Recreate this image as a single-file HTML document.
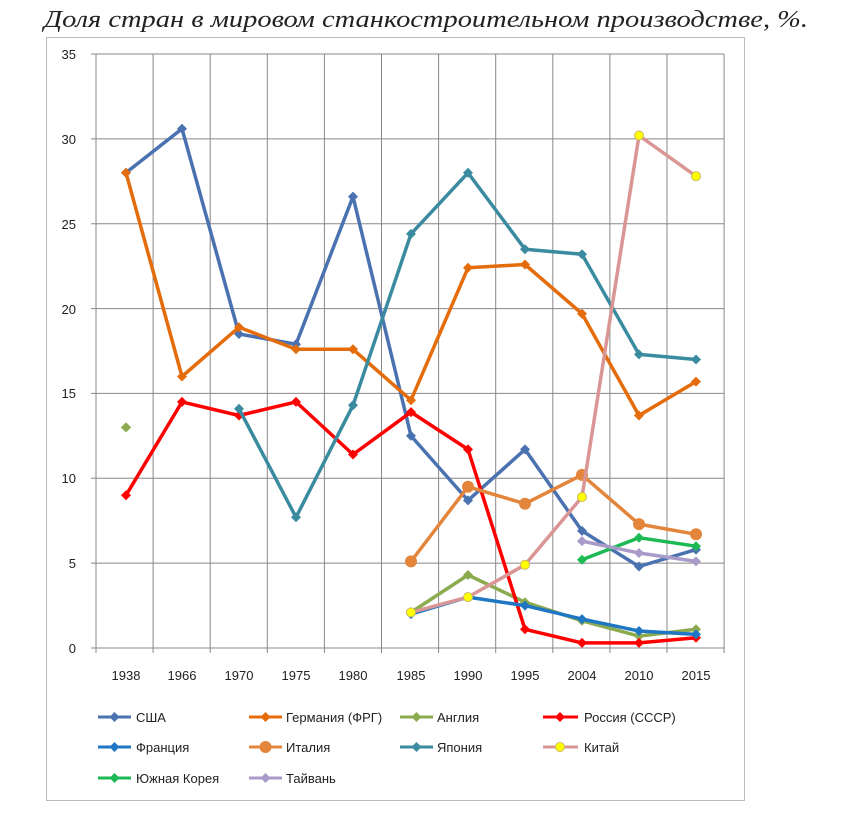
<!DOCTYPE html>
<html><head><meta charset="utf-8"><style>
body{margin:0;background:#fff;}
text{font-family:"Liberation Sans","DejaVu Sans",sans-serif;}
</style></head><body>
<svg width="850" height="809" xmlns="http://www.w3.org/2000/svg">
<defs>
<marker id="m1" markerUnits="userSpaceOnUse" markerWidth="12" markerHeight="12" refX="6" refY="6"><path d="M1 6L6 1L11 6L6 11Z" fill="#4a72b0"/></marker>
<marker id="m2" markerUnits="userSpaceOnUse" markerWidth="12" markerHeight="12" refX="6" refY="6"><path d="M1 6L6 1L11 6L6 11Z" fill="#e46c0a"/></marker>
<marker id="m3" markerUnits="userSpaceOnUse" markerWidth="12" markerHeight="12" refX="6" refY="6"><path d="M1 6L6 1L11 6L6 11Z" fill="#8cab4f"/></marker>
<marker id="m4" markerUnits="userSpaceOnUse" markerWidth="12" markerHeight="12" refX="6" refY="6"><path d="M1 6L6 1L11 6L6 11Z" fill="#ff0000"/></marker>
<marker id="m5" markerUnits="userSpaceOnUse" markerWidth="12" markerHeight="12" refX="6" refY="6"><path d="M1 6L6 1L11 6L6 11Z" fill="#1f77c4"/></marker>
<marker id="m6" markerUnits="userSpaceOnUse" markerWidth="14" markerHeight="14" refX="7" refY="7"><circle cx="7" cy="7" r="6" fill="#e3853b"/></marker>
<marker id="m7" markerUnits="userSpaceOnUse" markerWidth="12" markerHeight="12" refX="6" refY="6"><path d="M1 6L6 1L11 6L6 11Z" fill="#3b8ba0"/></marker>
<marker id="m8" markerUnits="userSpaceOnUse" markerWidth="12" markerHeight="12" refX="6" refY="6"><circle cx="6" cy="6" r="4.5" fill="#ffff00" stroke="#c9b860" stroke-width="1"/></marker>
<marker id="m9" markerUnits="userSpaceOnUse" markerWidth="12" markerHeight="12" refX="6" refY="6"><path d="M1 6L6 1L11 6L6 11Z" fill="#1db954"/></marker>
<marker id="m10" markerUnits="userSpaceOnUse" markerWidth="12" markerHeight="12" refX="6" refY="6"><path d="M1 6L6 1L11 6L6 11Z" fill="#a99bc9"/></marker>
</defs>
<text x="44" y="27" font-style="italic" font-size="24" fill="#222" textLength="764" lengthAdjust="spacingAndGlyphs" style="font-family:'Liberation Serif',serif">Доля стран в мировом станкостроительном производстве, %.</text>
<rect x="46.5" y="37.5" width="698" height="763" fill="#fff" stroke="#bbb" stroke-width="1"/>
<g stroke="#888" stroke-width="1">
<line x1="91" x2="724" y1="648" y2="648"/><line x1="91" x2="724" y1="563.1" y2="563.1"/><line x1="91" x2="724" y1="478.3" y2="478.3"/><line x1="91" x2="724" y1="393.4" y2="393.4"/><line x1="91" x2="724" y1="308.6" y2="308.6"/><line x1="91" x2="724" y1="223.7" y2="223.7"/><line x1="91" x2="724" y1="138.9" y2="138.9"/><line x1="91" x2="724" y1="54" y2="54"/>
<line x1="96" x2="96" y1="54" y2="653"/><line x1="153.1" x2="153.1" y1="54" y2="653"/><line x1="210.2" x2="210.2" y1="54" y2="653"/><line x1="267.3" x2="267.3" y1="54" y2="653"/><line x1="324.4" x2="324.4" y1="54" y2="653"/><line x1="381.5" x2="381.5" y1="54" y2="653"/><line x1="438.6" x2="438.6" y1="54" y2="653"/><line x1="495.7" x2="495.7" y1="54" y2="653"/><line x1="552.8" x2="552.8" y1="54" y2="653"/><line x1="609.9" x2="609.9" y1="54" y2="653"/><line x1="667" x2="667" y1="54" y2="653"/><line x1="724.1" x2="724.1" y1="54" y2="653"/>
</g>
<g font-size="13" fill="#222" text-anchor="end">
<text x="76" y="653">0</text><text x="76" y="568">5</text><text x="76" y="483">10</text><text x="76" y="398">15</text><text x="76" y="314">20</text><text x="76" y="229">25</text><text x="76" y="144">30</text><text x="76" y="59">35</text>
</g>
<g font-size="13" fill="#222" text-anchor="middle">
<text x="126" y="680">1938</text><text x="182" y="680">1966</text><text x="239" y="680">1970</text><text x="296" y="680">1975</text><text x="353" y="680">1980</text><text x="411" y="680">1985</text><text x="468" y="680">1990</text><text x="525" y="680">1995</text><text x="582" y="680">2004</text><text x="639" y="680">2010</text><text x="696" y="680">2015</text>
</g>
<g fill="none" stroke-width="3.5" stroke-linejoin="round">
<polyline stroke="#4a72b0" marker-start="url(#m1)" marker-mid="url(#m1)" marker-end="url(#m1)" points="126,172.8 182,128.7 239,334 296,344.2 353,196.6 411,435.9 468,500.4 525,449.4 582,530.9 639,566.5 696,549.6"/>
<polyline stroke="#e46c0a" marker-start="url(#m2)" marker-mid="url(#m2)" marker-end="url(#m2)" points="126,172.8 182,376.5 239,327.2 296,349.3 353,349.3 411,400.2 468,267.8 525,264.5 582,313.7 639,415.5 696,381.6"/>
<polyline stroke="#8cab4f" marker-start="url(#m3)" marker-end="url(#m3)" points="126,427.4 126,427.4"/>
<polyline stroke="#8cab4f" marker-start="url(#m3)" marker-mid="url(#m3)" marker-end="url(#m3)" points="411,612.4 468,575 525,602.2 582,620.8 639,636.1 696,629.3"/>
<polyline stroke="#ff0000" marker-start="url(#m4)" marker-mid="url(#m4)" marker-end="url(#m4)" points="126,495.3 182,401.9 239,415.5 296,401.9 353,454.5 411,412.1 468,449.4 525,629.3 582,642.9 639,642.9 696,637.8"/>
<polyline stroke="#1f77c4" marker-start="url(#m5)" marker-mid="url(#m5)" marker-end="url(#m5)" points="411,614.1 468,597.1 525,605.6 582,619.1 639,631 696,634.4"/>
<polyline stroke="#e3853b" marker-start="url(#m6)" marker-mid="url(#m6)" marker-end="url(#m6)" points="411,561.4 468,486.8 525,503.7 582,474.9 639,524.1 696,534.3"/>
<polyline stroke="#3b8ba0" marker-start="url(#m7)" marker-mid="url(#m7)" marker-end="url(#m7)" points="239,408.7 296,517.3 353,405.3 411,233.9 468,172.8 525,249.2 582,254.3 639,354.4 696,359.5"/>
<polyline stroke="#d99694" marker-start="url(#m8)" marker-mid="url(#m8)" marker-end="url(#m8)" points="411,612.4 468,597.1 525,564.8 582,497 639,135.5 696,176.2"/>
<polyline stroke="#1db954" marker-start="url(#m9)" marker-mid="url(#m9)" marker-end="url(#m9)" points="582,559.8 639,537.7 696,546.2"/>
<polyline stroke="#a99bc9" marker-start="url(#m10)" marker-mid="url(#m10)" marker-end="url(#m10)" points="582,541.1 639,553 696,561.4"/>
</g>
<g stroke-width="3" fill="none">
<polyline stroke="#4a72b0" marker-mid="url(#m1)" points="98,717 114.5,717 131,717"/>
<polyline stroke="#e46c0a" marker-mid="url(#m2)" points="249,717 265.5,717 282,717"/>
<polyline stroke="#8cab4f" marker-mid="url(#m3)" points="400,717 416.5,717 433,717"/>
<polyline stroke="#ff0000" marker-mid="url(#m4)" points="543,717 560,717 578,717"/>
<polyline stroke="#1f77c4" marker-mid="url(#m5)" points="98,747 114.5,747 131,747"/>
<polyline stroke="#e3853b" marker-mid="url(#m6)" points="249,747 265.5,747 282,747"/>
<polyline stroke="#3b8ba0" marker-mid="url(#m7)" points="400,747 416.5,747 433,747"/>
<polyline stroke="#d99694" marker-mid="url(#m8)" points="543,747 560,747 578,747"/>
<polyline stroke="#1db954" marker-mid="url(#m9)" points="98,778 114.5,778 131,778"/>
<polyline stroke="#a99bc9" marker-mid="url(#m10)" points="249,778 265.5,778 282,778"/>
</g>
<g font-size="13" fill="#222">
<text x="136" y="722">США</text><text x="286" y="722">Германия (ФРГ)</text><text x="437" y="722">Англия</text><text x="584" y="722">Россия (СССР)</text>
<text x="136" y="752">Франция</text><text x="286" y="752">Италия</text><text x="437" y="752">Япония</text><text x="584" y="752">Китай</text>
<text x="136" y="783">Южная Корея</text><text x="286" y="783">Тайвань</text>
</g>
</svg>
</body></html>
